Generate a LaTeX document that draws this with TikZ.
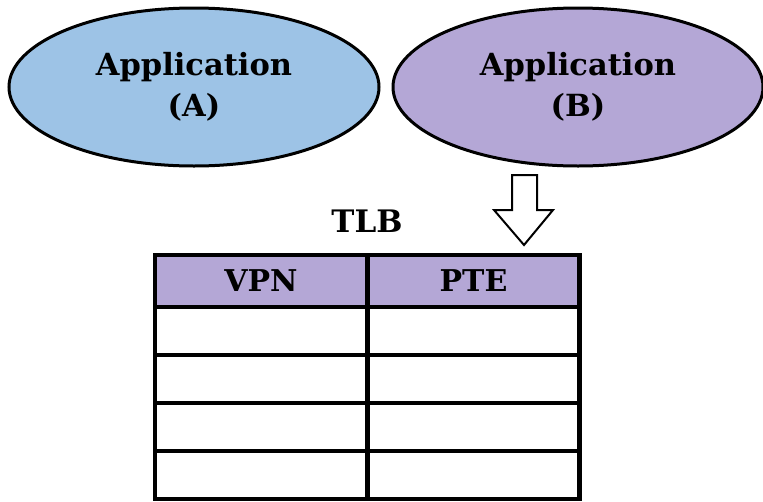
\documentclass[tikz,border=0pt]{standalone}
\usepackage{fontspec}
\setmainfont{DejaVu Serif}
\usetikzlibrary{positioning}
\usetikzlibrary{shapes.geometric}
\definecolor{appblue}{HTML}{9DC3E6}
\definecolor{applilac}{HTML}{B4A7D6}
\tikzset{app/.style={draw, ellipse, line width=3pt, minimum width=370pt, minimum height=158pt, align=center, inner sep=0pt, font=\bfseries\fontsize{30.5}{41}\selectfont}}
\tikzset{cell/.style={draw, line width=4.5pt, minimum width=212pt, minimum height=48pt, inner sep=0pt, font=\bfseries\fontsize{30}{34}\selectfont}}
\tikzset{head/.style={cell, fill=applilac, minimum height=52pt}}

\begin{document}
\begin{tikzpicture}[x=1pt, y=1pt, on grid]
        \useasboundingbox (0,0) rectangle (763,-501);

        \node[app, fill=appblue] (appA) at (194,-87) {Application\\(A)};
        \node[app, fill=applilac, right=384 of appA] (appB) {Application\\(B)};

        \node (tlb) at (367,-221) {\bfseries\fontsize{31}{34}\selectfont TLB};

        \node[head] (vpn) at (261,-281) {VPN};
        \node[head, right=212.5 of vpn] (pte) {PTE};

        \node[cell, below=50 of vpn] (r1a) {};
        \node[cell, below=50 of pte] (r1b) {};
        \foreach \i/\j in {2/1,3/2,4/3} {
            \node[cell, below=48 of r\j a] (r\i a) {};
            \node[cell, below=48 of r\j b] (r\i b) {};
        }

        % hollow arrow under application B
        \draw[line width=2pt, fill=white, line join=miter]
            (512,-175) -- (537,-175) -- (537,-210) -- (553,-210)
            -- (524,-245) -- (494,-210) -- (512,-210) -- cycle;
    \end{tikzpicture}
\end{document}
